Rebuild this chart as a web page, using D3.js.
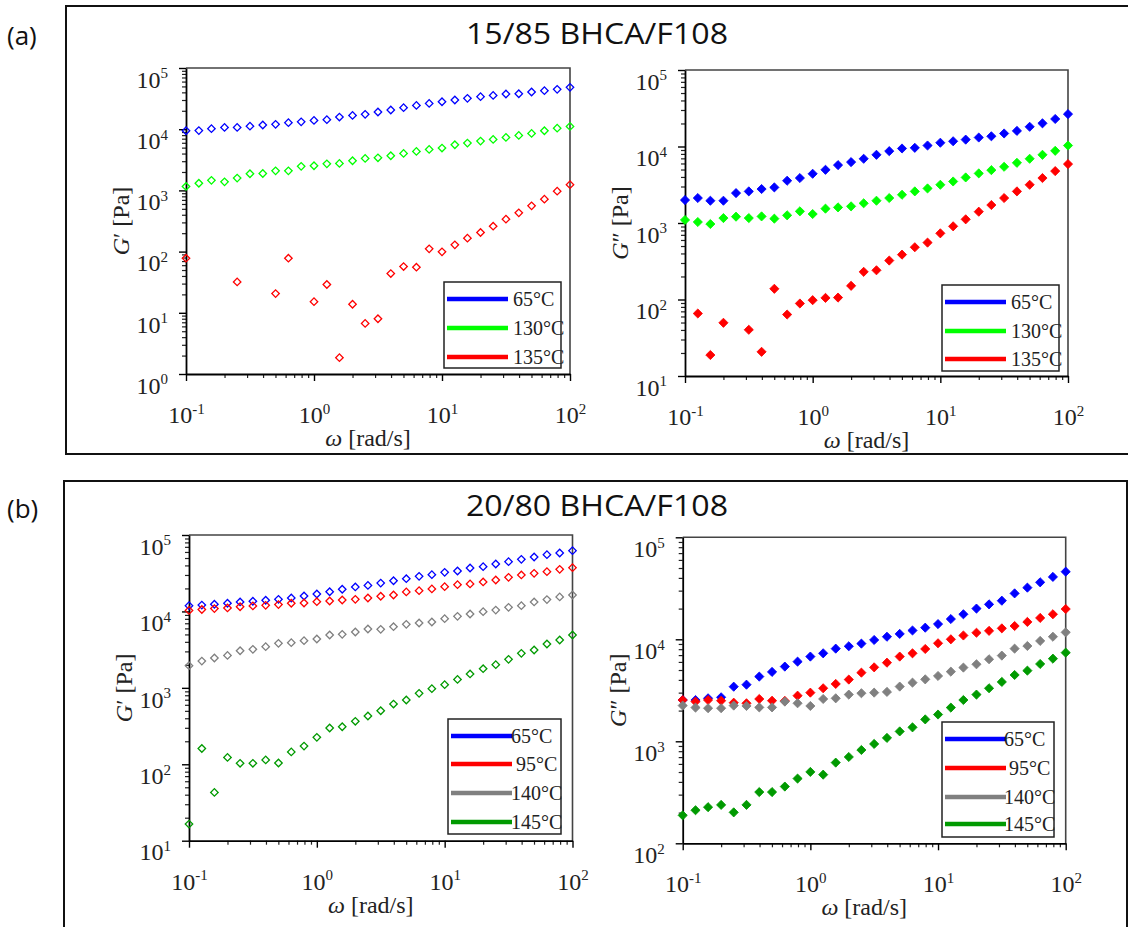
<!DOCTYPE html>
<html><head><meta charset="utf-8">
<script src="https://cdn.jsdelivr.net/npm/d3@7"></script>
<style>body{margin:0;background:#fff;} svg{display:block;}</style>
</head><body>
<svg id="chart" width="1128" height="927"></svg>
<script>
// ---------------- DATA ----------------
const omega = [0.1,0.126,0.158,0.2,0.251,0.316,0.398,0.501,0.631,0.794,1,1.26,1.58,2,2.51,3.16,3.98,5.01,6.31,7.94,10,12.6,15.8,20,25.1,31.6,39.8,50.1,63.1,79.4,100];

// (a) 15/85 BHCA/F108
const legendA = ["65°C","130°C","135°C"];
const aGp65  = [9440,9500,10200,10700,10700,11200,11700,12000,12800,13200,13900,14300,15800,16800,17500,19100,20600,22500,24500,26400,28100,30000,31900,34000,35700,37600,38000,40500,42600,44800,48300];
const aGp130 = [1160,1310,1460,1380,1590,1870,1890,2090,2090,2470,2530,2720,2760,3050,3330,3410,3680,4020,4340,4680,4920,5570,5930,6400,6810,7340,7920,8540,9440,10400,11100];
const aGp135 = [78,null,null,null,32,null,null,20.6,78,null,15.2,29,1.85,13.8,6.7,8.0,43.8,57,55.6,111,99,129,166,205,260,339,430,560,720,973,1240];
const aGpp65  = [1995,2120,1955,1955,2460,2590,2780,2920,3570,3870,4400,4960,5710,6250,6910,7790,8700,9420,9610,10300,11200,11700,12300,13100,13600,14800,16000,18100,20100,22900,26500];
const aGpp130 = [1095,1030,970,1160,1210,1160,1220,1140,1260,1420,1310,1540,1600,1650,1810,1955,2120,2340,2590,2830,3160,3490,3940,4450,4910,5430,6120,6910,7790,8780,10300];
const aGpp135 = [null,65.6,18.8,49.6,null,40.2,20.7,138,63.6,88.7,98,105,106,151,230,241,323,386,482,554,733,905,1117,1405,1718,2120,2590,3160,3870,4770,5890];

// (b) 20/80 BHCA/F108
const legendB = ["65°C","95°C","140°C","145°C"];
const bGp65  = [11900,12100,12400,12800,13300,13600,14000,14400,15000,15900,16900,18100,19500,20900,21900,23500,25200,26800,28800,30300,32500,33800,37000,38500,41700,44800,48000,51500,55300,58100,62400];
const bGp95  = [10300,10600,10900,11100,11500,11800,12000,12300,12800,12900,13400,13700,14100,14400,15000,15800,16400,18000,18700,19700,21100,22400,22900,24300,25800,27900,30000,31500,33100,35500,37400];
const bGp140 = [1950,2240,2460,2660,3060,3190,3460,3820,3900,4140,4360,4920,5010,5380,5890,5830,6310,6770,7050,7270,8040,8630,9250,9930,10400,11300,11900,13300,14300,15500,16400];
const bGp145 = [16.5,161,42.8,123,103,103,114,104,145,173,225,298,310,365,428,502,614,693,848,975,1100,1290,1520,1780,2010,2360,2830,3130,3750,4230,4920];
const bGpp65  = [2540,2540,2640,2700,3430,3590,4310,4790,5400,6040,6770,7290,8100,8540,9070,9850,10600,11300,12200,13000,14100,15800,17600,20000,22000,23900,28200,32100,36200,40900,46000];
const bGpp95  = [2540,2450,2540,2500,2390,2360,2600,2500,2490,2800,3000,3310,3650,4030,4710,5310,5900,6770,7290,8040,9140,10000,10900,11600,12100,12800,13500,14800,16200,17600,19800];
const bGpp140 = [2240,2140,2110,2110,2240,2220,2150,2150,2450,2360,2220,2600,2640,2870,2960,3000,3050,3440,3760,4050,4370,4820,5280,5690,6370,6920,8100,8600,9640,10600,11700];
const bGpp145 = [188,211,226,238,201,238,318,318,360,431,501,471,618,702,822,942,1080,1250,1370,1640,1830,2140,2540,2870,3310,3820,4470,4930,5730,6460,7400];

const xDomain = [0.1, 100];

// ---------------- STYLE / LAYOUT ----------------
const colA = ["#0000ff","#00ff00","#ff0000"];
const colB = ["#0000ff","#ff0000","#808080","#009a00"];
const serif = "'Liberation Serif','Times New Roman',serif";
const sansN = "'Open Sans','Liberation Sans',sans-serif";

const sections = [
  {tag:"(a)", title:"15/85 BHCA/F108", frame:[66,6,1072,448], tagY:45, titleY:44},
  {tag:"(b)", title:"20/80 BHCA/F108", frame:[64,481,1063,452], tagY:518, titleY:516}
];

const panels = [
  {xr:[186,570], yr:[374,68], yd:[1,1e5], prime:"′", open:true,
   series:[aGp65,aGp130,aGp135], names:legendA, colors:colA,
   leg:[444,282,117,86], rows:[299,328,357], txtX:[513,513,513]},
  {xr:[685,1068], yr:[376,70], yd:[10,1e5], prime:"″", open:false,
   series:[aGpp65,aGpp130,aGpp135], names:legendA, colors:colA,
   leg:[942,285,117,86], rows:[302,331,359], txtX:[1011,1011,1011]},
  {xr:[189,572.5], yr:[840.7,535], yd:[10,1e5], prime:"′", open:true,
   series:[bGp65,bGp95,bGp140,bGp145], names:legendB, colors:colB,
   leg:[448,719,113,115], rows:[736,764,793,822], txtX:[511,516,511,511]},
  {xr:[682.7,1065.7], yr:[843.3,537.3], yd:[100,1e5], prime:"″", open:false,
   series:[bGpp65,bGpp95,bGpp140,bGpp145], names:legendB, colors:colB,
   leg:[942,722,112,115], rows:[739,768,797,824], txtX:[1004,1009,1004,1004]}
];

const svg = d3.select("#chart");

// section frames and titles
sections.forEach(s => {
  svg.append("rect").attr("x", s.frame[0]).attr("y", s.frame[1])
    .attr("width", s.frame[2]).attr("height", s.frame[3])
    .attr("fill","none").attr("stroke","#111").attr("stroke-width",2);
  svg.append("text").attr("x", 7).attr("y", s.tagY)
    .attr("font-family", sansN).attr("font-size", 26).attr("fill","#111").text(s.tag);
  svg.append("text").attr("x", 597).attr("y", s.titleY).attr("text-anchor","middle")
    .attr("font-family", sansN).attr("font-size", 30).attr("fill","#111")
    .attr("textLength", 262).attr("lengthAdjust","spacingAndGlyphs").text(s.title);
});

function minorTicks(lo, hi) {
  const out = [];
  for (let e = Math.floor(Math.log10(lo)); e < Math.ceil(Math.log10(hi)); e++) {
    for (let m = 2; m <= 9; m++) { const v = m * Math.pow(10, e); if (v > lo && v < hi) out.push(v); }
  }
  return out;
}
function majorTicks(lo, hi) {
  const out = [];
  for (let e = Math.round(Math.log10(lo)); e <= Math.round(Math.log10(hi)); e++) out.push(Math.pow(10, e));
  return out;
}
function powLabel(sel, v) {
  const e = Math.round(Math.log10(v));
  sel.text(null);
  sel.append("tspan").text("10");
  sel.append("tspan").attr("font-size", 15).attr("dy", "-0.62em").text(String(e));
}

panels.forEach(p => {
  const x = d3.scaleLog().domain(xDomain).range(p.xr);
  const y = d3.scaleLog().domain(p.yd).range(p.yr);
  const g = svg.append("g");

  // frame top & right
  g.append("path")
    .attr("d", `M${p.xr[0]},${p.yr[1]}H${p.xr[1]}V${p.yr[0]}`)
    .attr("fill","none").attr("stroke","#444").attr("stroke-width",1.6);

  // axes: minor
  g.append("g").attr("transform", `translate(0,${p.yr[0]})`)
    .call(d3.axisBottom(x).tickValues(minorTicks(...xDomain)).tickSize(4).tickSizeOuter(0).tickFormat(""))
    .call(a => a.select(".domain").remove())
    .selectAll("line").attr("stroke","#222").attr("stroke-width",1.2);
  g.append("g").attr("transform", `translate(${p.xr[0]},0)`)
    .call(d3.axisLeft(y).tickValues(minorTicks(...p.yd)).tickSize(4).tickSizeOuter(0).tickFormat(""))
    .call(a => a.select(".domain").remove())
    .selectAll("line").attr("stroke","#222").attr("stroke-width",1.2);

  // axes: major
  const xa = g.append("g").attr("transform", `translate(0,${p.yr[0]})`)
    .call(d3.axisBottom(x).tickValues(majorTicks(...xDomain)).tickSize(7).tickSizeOuter(0).tickPadding(25));
  xa.attr("font-family", serif);
  xa.select(".domain").attr("stroke","#000").attr("stroke-width",1.8);
  xa.selectAll("line").attr("stroke","#000").attr("stroke-width",1.4);
  xa.selectAll("text").attr("font-family", serif).attr("font-size", 24).attr("fill","#222")
    .each(function(d){ powLabel(d3.select(this), d); });

  const ya = g.append("g").attr("transform", `translate(${p.xr[0]},0)`)
    .call(d3.axisLeft(y).tickValues(majorTicks(...p.yd)).tickSize(7).tickSizeOuter(0).tickPadding(11));
  ya.attr("font-family", serif);
  ya.select(".domain").attr("stroke","#000").attr("stroke-width",1.8);
  ya.selectAll("line").attr("stroke","#000").attr("stroke-width",1.4);
  ya.selectAll("text").attr("font-family", serif).attr("font-size", 24).attr("fill","#222")
    .attr("dy", "0.8em")
    .each(function(d){ powLabel(d3.select(this), d); });

  // axis titles
  const xt = g.append("text").attr("x", (p.xr[0]+p.xr[1])/2 - 10).attr("y", p.yr[0] + 72)
    .attr("text-anchor","middle").attr("font-family", serif).attr("font-size", 24).attr("fill","#222");
  xt.append("tspan").attr("font-style","italic").text("ω");
  xt.append("tspan").text(" [rad/s]");

  const yt = g.append("text")
    .attr("transform", `translate(${p.xr[0]-57},${(p.yr[0]+p.yr[1])/2}) rotate(-90)`)
    .attr("text-anchor","middle").attr("font-family", serif).attr("font-size", 24).attr("fill","#222");
  yt.append("tspan").attr("font-style","italic").text("G");
  yt.append("tspan").text(p.prime + " [Pa]");

  // data points
  const sym = d3.symbol().type(d3.symbolSquare).size(p.open ? 28 : 42);
  p.series.forEach((vals, si) => {
    const pts = omega.map((w, i) => ({w, v: vals[i]})).filter(d => d.v != null);
    g.append("g").selectAll("path").data(pts).join("path")
      .attr("d", sym)
      .attr("transform", d => `translate(${x(d.w)},${y(d.v)}) rotate(45)`)
      .attr("fill", p.open ? "none" : p.colors[si])
      .attr("stroke", p.colors[si])
      .attr("stroke-width", p.open ? 1.3 : 0.8);
  });

  // legend
  const [lx, ly, lw, lh] = p.leg;
  g.append("rect").attr("x", lx).attr("y", ly).attr("width", lw).attr("height", lh)
    .attr("fill","#fff").attr("stroke","#222").attr("stroke-width",1.5);
  p.names.forEach((nm, i) => {
    g.append("line").attr("x1", lx+3).attr("x2", lx+64).attr("y1", p.rows[i]).attr("y2", p.rows[i])
      .attr("stroke", p.colors[i]).attr("stroke-width", 4.5);
    g.append("text").attr("x", p.txtX[i]).attr("y", p.rows[i] + 7)
      .attr("font-family", serif).attr("font-size", 20).attr("fill","#222").text(nm);
  });
});
</script>
</body></html>
